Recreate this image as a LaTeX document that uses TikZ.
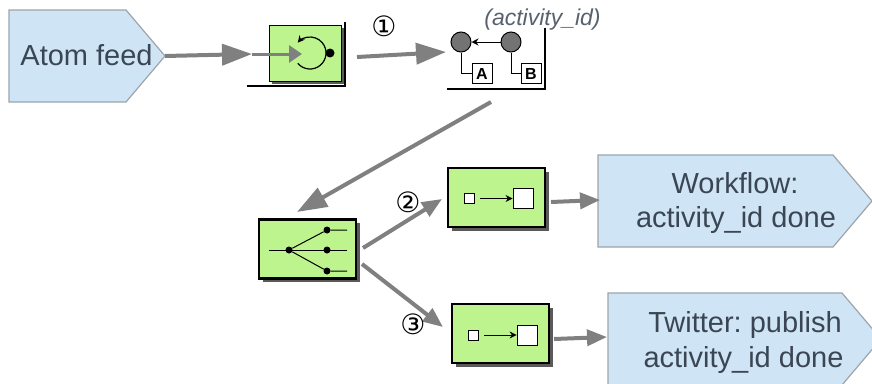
\documentclass[tikz,border=0pt]{standalone}
\usepackage{fontspec}
\setmainfont{Liberation Sans}
\newfontfamily\symfont{DejaVu Sans}
\usetikzlibrary{arrows.meta,shadows}
\definecolor{feedfill}{HTML}{CFE4F5}
\definecolor{feedline}{HTML}{9DA5AB}
\definecolor{feedtext}{HTML}{3B4654}
\definecolor{boxfill}{HTML}{BEF48E}
\definecolor{flow}{HTML}{808080}
\definecolor{shade}{HTML}{5A5A5A}
\frenchspacing
\tikzset{
  x=1pt,y=-1pt,
  feed/.style={draw=feedline,fill=feedfill,line width=1.2pt,line join=miter},
  feedlabel/.style={text=feedtext,font=\fontsize{29}{30}\selectfont,anchor=base,inner sep=0pt},
  eipbox/.style={draw=black,fill=boxfill,line width=2.2pt,minimum width=97pt,minimum height=59pt,inner sep=0pt,
    general shadow={shadow xshift=3.5pt,shadow yshift=-3.5pt,fill=shade}},
  loopbox/.style={draw=black,fill=boxfill,line width=1.6pt,minimum width=72pt,minimum height=56pt,inner sep=0pt,
    general shadow={shadow xshift=2.5pt,shadow yshift=-2.5pt,fill=shade}},
  small/.style={draw=black,fill=white,line width=.8pt,minimum size=10pt,inner sep=0pt},
  big/.style={draw=black,fill=white,line width=.8pt,minimum size=20pt,inner sep=0pt},
  tag/.style={draw=black,fill=white,line width=1pt,minimum size=20pt,inner sep=0pt,font=\bfseries\fontsize{16}{16}\selectfont},
  store/.style={circle,draw=black,fill=flow!90!black,line width=1pt,minimum size=20pt,inner sep=0pt},
  junction/.style={circle,fill=black,minimum size=7pt,inner sep=0pt},
  flowarrow/.style={draw=flow,line width=4pt,-{Triangle[length=30pt,width=21pt]}},
  flowshort/.style={draw=flow,line width=4pt,-{Triangle[length=20pt,width=16pt]}},
  thin link/.style={draw=black,line width=1pt},
  inner link/.style={draw=black,line width=1pt,-{Stealth[length=7pt,width=7pt]}},
  frame/.style={draw=black,line width=2pt},
  num/.style={font=\symfont\fontsize{28}{28}\selectfont,inner sep=0pt},
}
\begin{document}
\begin{tikzpicture}
\useasboundingbox (0,0) rectangle (872,383);
\fill[white] (0,0) rectangle (872,383);

% message feeds
\draw[feed] (9,10) -- (126,10) -- (165,56) coordinate (atomtip) -- (126,102) -- (9,102) -- cycle;
\node[feedlabel] (atomtext) at (86.5,65) {Atom feed};
\draw[feed] (598,155) coordinate (wfleft) -- (833,155) -- (872,201) -- (833,247) -- (598,247) -- cycle;
\node[feedlabel] (wftexta) at (735,193) {Workflow:};
\node[feedlabel] (wftextb) at (736,227) {activity\_id done};
\draw[feed] (608,293) -- (842,293) -- (881,339) -- (842,385) -- (608,385) -- cycle;
\node[feedlabel] (twtexta) at (745,332) {Twitter: publish};
\node[feedlabel] (twtextb) at (743.5,367) {activity\_id done};

% idempotent receiver
\draw[frame] (247,86) -- (345,86) -- (345,22);
\node[loopbox] (loop) at (305.5,53.5) {};
\coordinate (loopc) at (310,53);
\draw[thin link,line width=1.2pt,-{Stealth[length=7pt,width=7pt]}] (loopc) ++(140:16) arc[start angle=140,end angle=-140,radius=16];
\node[junction,minimum size=9pt] (loopdot) at (330,53) {};
\coordinate (loopin) at (252,54);
\coordinate (loopend) at (302,54);
\draw[flow,line width=3pt,-{Triangle[length=13pt,width=17pt]}] (loopin) -- (loopend);
\draw[flowarrow] (atomtip) -- (loopin);

% aggregator
\draw[frame] (447,89) -- (545,89) -- (545,28);
\node[store] (left) at (461,42) {};
\node[store] (right) at (511,42) {};
\node[tag] (taga) at (482,73.5) {A};
\node[tag] (tagb) at (531,73.5) {B};
\draw[inner link] (right) -- (left);
\draw[thin link] (left) |- (taga);
\draw[thin link] (right) |- (tagb);
\node[inner sep=0pt,anchor=base,text=feedtext!85,font=\itshape\fontsize{23}{23}\selectfont] (key) at (542.5,25) {(activity\_id)};

% splitter
\node[eipbox] (split) at (307.5,249) {};
\node[junction] (hub) at (289,250) {};
\node[junction] (ja) at (327,230) {};
\node[junction] (jb) at (327,250) {};
\node[junction] (jc) at (327,271) {};
\coordinate (ina) at (269,250);
\coordinate (outa) at (347,230);
\coordinate (outb) at (347,250);
\coordinate (outc) at (347,271);
\draw[thin link] (ina) -- (outb);
\draw[thin link] (hub) -- (ja) -- (outa);
\draw[thin link] (hub) -- (jc) -- (outc);

% transformers
\node[eipbox] (tfa) at (496.5,197.5) {};
\node[small] (tfasrc) at (469,198.5) {};
\node[big] (tfadst) at (523,198.5) {};
\coordinate (tfas) at (480,198.5);
\draw[inner link] (tfas) -- (tfadst.west);
\node[eipbox] (tfb) at (500.5,333.5) {};
\node[small] (tfbsrc) at (473,335) {};
\node[big] (tfbdst) at (527,335) {};
\coordinate (tfbs) at (484,335);
\draw[inner link] (tfbs) -- (tfbdst.west);

% flow arrows
\coordinate (lo) at (357,57);
\coordinate (lt) at (446,52);
\draw[flowarrow] (lo) -- (lt);
\coordinate (so) at (491,102);
\coordinate (st) at (297,212);
\draw[flowarrow] (so) -- (st);
\coordinate (ao) at (363,248);
\coordinate (at2) at (442,199);
\draw[flowshort] (ao) -- (at2);
\coordinate (bo) at (362,264);
\coordinate (bt) at (443,327);
\draw[flowshort] (bo) -- (bt);
\coordinate (co) at (551,202);
\coordinate (ce) at (600,200);
\draw[flowshort] (co) -- (ce);
\coordinate (dd) at (554,339);
\coordinate (de) at (607,337);
\draw[flowshort] (dd) -- (de);

% sequence numbers
\node[num] (n1) at (384,26) {①};
\node[num] (n2) at (408,202) {②};
\node[num] (n3) at (413,324) {③};
\end{tikzpicture}
\end{document}
